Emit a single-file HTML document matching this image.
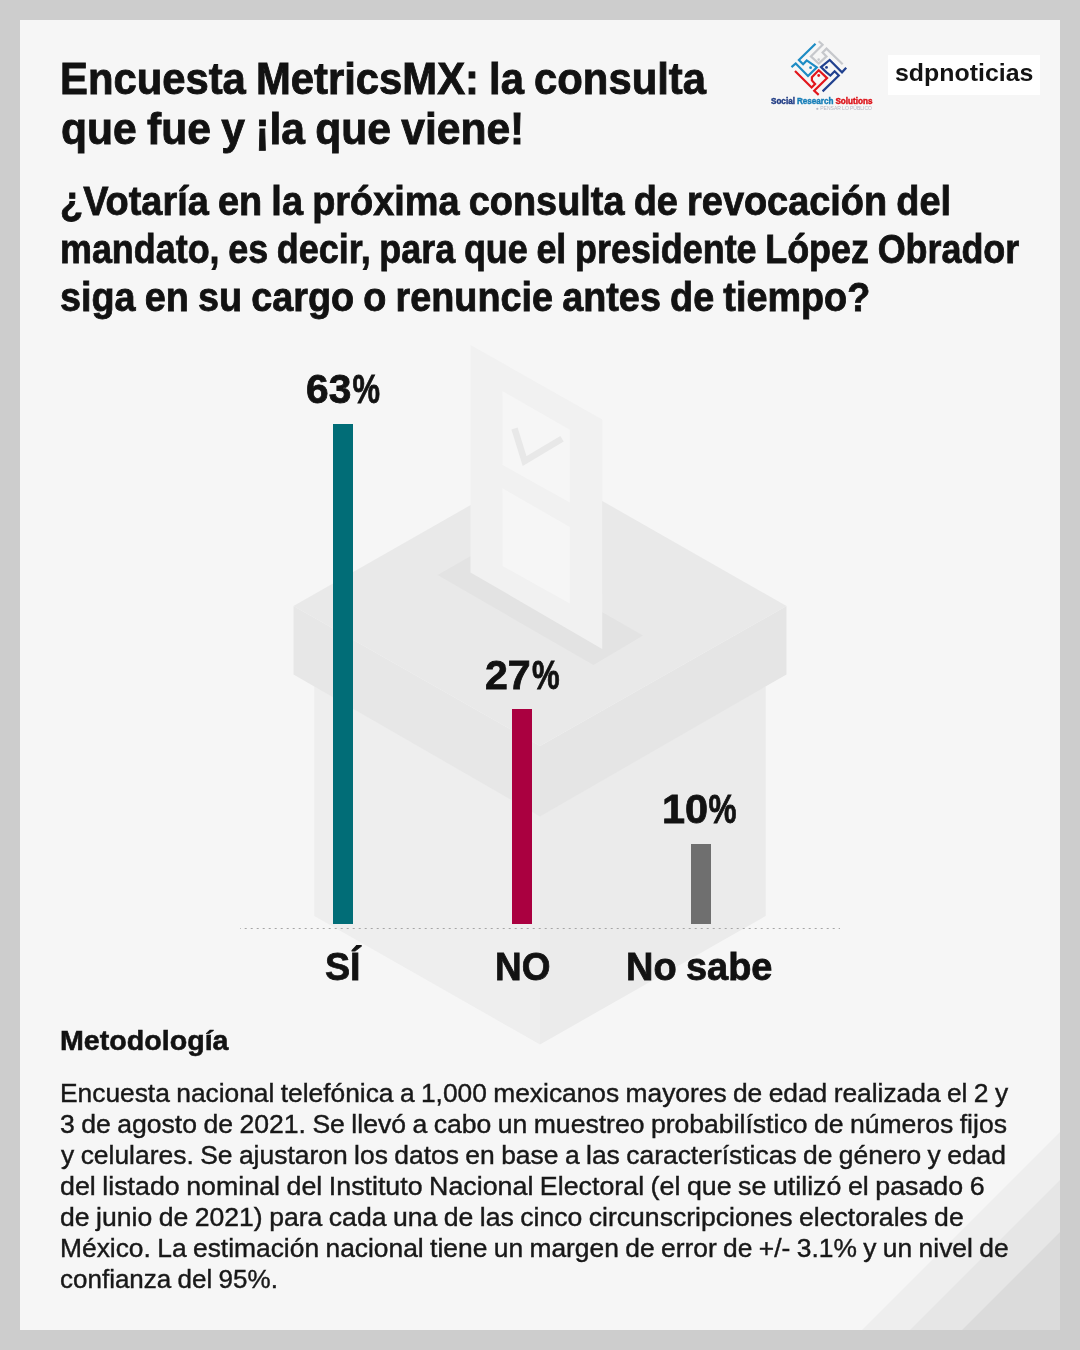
<!DOCTYPE html>
<html lang="es">
<head>
<meta charset="utf-8">
<title>Encuesta MetricsMX: la consulta que fue y ¡la que viene!</title>
<style>
  html, body { margin:0; padding:0; }
  body { width:1080px; height:1350px; overflow:hidden; background:#cdcdcd;
         font-family:"Liberation Sans", Arial, Helvetica, sans-serif; }
  .card { position:absolute; left:20px; top:20px; width:1040px; height:1310px; background:#f6f6f6; overflow:hidden; }
  .stage { position:absolute; left:0; top:0; width:1080px; height:1350px; }
  .art { position:absolute; left:0; top:0; width:1080px; height:1350px; }
  h1, h2, h3, p { margin:0; padding:0; font-size:inherit; font-weight:inherit; }
  .ln { position:absolute; display:block; white-space:nowrap; line-height:1.2; transform-origin:0 50%;
        letter-spacing:0; word-spacing:-0.035em; }
  .pc { display:inline-block; transform-origin:0 50%; }
  .bar { position:absolute; width:20px; }
  .axis { position:absolute; left:240px; top:928px; width:600px; height:1px; background-position:-1.3px 0;
          background-image:repeating-linear-gradient(90deg,#a6a6a6 0,#a6a6a6 2px,transparent 2px,transparent 6px); }
  .srs-mark { position:absolute; left:0; top:0; }
  .sdp { position:absolute; left:888px; top:55px; width:152px; height:39.5px; background:#ffffff; }
</style>
</head>
<body>
<div class="card"></div>
<main class="stage">
  <svg class="art" width="1080" height="1350" viewBox="0 0 1080 1350" aria-hidden="true">
    <!-- corner stripes -->
    <g>
      <polygon points="1060,1132 1060,1330 862,1330" fill="#eeeeee"/>
      <polygon points="1060,1180 1060,1330 910,1330" fill="#e6e6e6"/>
      <polygon points="1060,1232 1060,1330 962,1330" fill="#dbdbdb"/>
    </g>
    <!-- ballot box -->
    <g>
      <!-- body -->
      <polygon points="314.3,686 540,816 540,1044.5 314.3,916" fill="#eeeeee"/>
      <polygon points="765.7,686 540,816 540,1044.5 765.7,916" fill="#ebebeb"/>
      <!-- lid faces -->
      <polygon points="293.5,606 540,746 540,816.5 293.5,674.5" fill="#e7e7e7"/>
      <polygon points="786.5,606 540,746 540,816.5 786.5,674.5" fill="#e5e5e5"/>
      <!-- lid top -->
      <polygon points="540,465.5 786.5,606 540,746 293.5,606" fill="#e9e9e9"/>
      <!-- slot -->
      <polygon points="437.6,575 487.3,546.5 643,635.5 593.5,665" fill="#e3e3e3"/>
      <!-- paper -->
      <polygon points="470.5,345 602.2,419.6 602.2,649 470.5,572.4" fill="#f1f1f1"/>
      <polygon points="502.4,391 569.8,429.8 569.8,502.4 502.4,464.8" fill="#f6f6f6"/>
      <polygon points="502.4,488.2 569.8,527 569.8,603.5 502.4,565.9" fill="#f6f6f6"/>
      <polyline points="514.5,428.5 524.6,461 562,438.7" fill="none" stroke="#e8e8e8" stroke-width="6.5"/>
    </g>
  </svg>

  <header>
  <h1 class="title">
    <span class="ln" id="t1" style="left:60.48px;top:52.50px;font-size:44.0px;font-weight:700;color:#121212;-webkit-text-stroke:0.88px #121212;transform:scaleX(0.9499)">Encuesta MetricsMX: la consulta</span>
    <span class="ln" id="t2" style="left:61.11px;top:103.22px;font-size:44.0px;font-weight:700;color:#121212;-webkit-text-stroke:0.88px #121212;transform:scaleX(0.9675)">que fue y ¡la que viene!</span>
  </h1>
    <div class="srs">
    <svg class="srs-mark" width="1080" height="140" viewBox="0 0 1080 140" role="img" aria-label="Social Research Solutions">
      <g fill="none" stroke-width="2.2" stroke-linejoin="miter" stroke-linecap="butt">
        <polyline points="818.7,41.2 822.6,44.7 810.9,56.4 818.7,63.5 826.5,56.4 822.6,52.5 826.5,48.6 842.7,64.2" stroke="#c6c8cc"/>
        <polyline points="815.5,43.7 798.9,60.0 803.1,64.2 806.7,60.4 816.8,67.4 808.0,76.0 795.7,63.5 791.5,67.1" stroke="#1d8cc4"/>
        <polyline points="846.2,67.7 842.0,72.3 829.7,60.0 821.0,67.1 826.5,72.3 830.4,75.5 834.6,71.3 838.8,75.5 822.6,91.4" stroke="#21418f"/>
        <polyline points="795.0,71.0 811.6,87.5 815.1,83.9 811.9,80.4 811.9,77.1 818.7,70.3 827.1,78.1 814.2,90.7 818.7,94.9" stroke="#e2161c"/>
      </g>
      <circle cx="818.7" cy="59.6" r="1.3" fill="#c6c8cc"/>
      <circle cx="810.6" cy="67.7" r="1.4" fill="#1d8cc4"/>
      <circle cx="826.5" cy="67.4" r="1.4" fill="#21418f"/>
      <circle cx="818.7" cy="75.5" r="1.4" fill="#e2161c"/>
    </svg>
      <span class="ln" id="srs1" style="left:771.37px;top:95.79px;font-size:9.2px;font-weight:700;color:#27458f;-webkit-text-stroke:0.45px #27458f;transform:scaleX(0.8835)"><span style="color:#213d85;-webkit-text-stroke-color:#213d85">Social</span> <span style="color:#167eb8;-webkit-text-stroke-color:#167eb8">Research</span> <span style="color:#dc1017;-webkit-text-stroke-color:#dc1017">Solutions</span></span><span class="ln" id="srs4" style="left:815.74px;top:106.13px;font-size:4.8px;font-weight:400;color:#b4b6c4;-webkit-text-stroke:0.00px #b4b6c4;transform:scaleX(1.0455)">● PENSAR LO PÚBLICO</span>
    </div>
    <div class="sdp"></div>
    <span class="ln" id="sdp" style="left:894.76px;top:59.11px;font-size:24.1px;font-weight:700;color:#141414;-webkit-text-stroke:0.00px #141414;transform:scaleX(1.0334)">sdpnoticias</span>
  </header>
  <h2 class="question">
    <span class="ln" id="q1" style="left:59.96px;top:177.49px;font-size:40.1px;font-weight:700;color:#121212;-webkit-text-stroke:0.80px #121212;transform:scaleX(0.9452)">¿Votaría en la próxima consulta de revocación del</span>
    <span class="ln" id="q2" style="left:59.57px;top:225.49px;font-size:40.1px;font-weight:700;color:#121212;-webkit-text-stroke:0.80px #121212;transform:scaleX(0.8955)">mandato, es decir, para que el presidente López Obrador</span>
    <span class="ln" id="q3" style="left:60.43px;top:273.49px;font-size:40.1px;font-weight:700;color:#121212;-webkit-text-stroke:0.80px #121212;transform:scaleX(0.9426)">siga en su cargo o renuncie antes de tiempo?</span>
  </h2>
  <section class="chart">
    <div class="bar" style="left:333px;top:424px;height:499.5px;background:#016d77"></div>
    <div class="bar" style="left:512px;top:709px;height:214.5px;background:#aa0040"></div>
    <div class="bar" style="left:691px;top:844px;height:79.5px;background:#6f6f6f"></div>
    <div class="axis"></div>
    <div class="col">
      <strong class="val"><span class="ln" id="v1" style="left:305.62px;top:365.09px;font-size:41.1px;font-weight:700;color:#121212;-webkit-text-stroke:0.82px #121212;transform:scaleX(0.9907)">63<span class="pc" id="v1p" style="margin-left:1.46px;transform:scaleX(0.7597)">%</span></span></strong>
      <span class="ln" id="l1" style="left:325.34px;top:942.59px;font-size:39.7px;font-weight:700;color:#121212;-webkit-text-stroke:0.79px #121212;transform:scaleX(0.9489)">SÍ</span>
    </div>
    <div class="col">
      <strong class="val"><span class="ln" id="v2" style="left:484.57px;top:650.65px;font-size:41.1px;font-weight:700;color:#121212;-webkit-text-stroke:0.82px #121212;transform:scaleX(1.0006)">27<span class="pc" id="v2p" style="margin-left:1.41px;transform:scaleX(0.7560)">%</span></span></strong>
      <span class="ln" id="l2" style="left:494.75px;top:942.85px;font-size:39.7px;font-weight:700;color:#121212;-webkit-text-stroke:0.79px #121212;transform:scaleX(0.9311)">NO</span>
    </div>
    <div class="col">
      <strong class="val"><span class="ln" id="v3" style="left:661.73px;top:785.00px;font-size:41.1px;font-weight:700;color:#121212;-webkit-text-stroke:0.82px #121212;transform:scaleX(1.0091)">10<span class="pc" id="v3p" style="margin-left:0.00px;transform:scaleX(0.7600)">%</span></span></strong>
      <span class="ln" id="l3" style="left:625.50px;top:942.51px;font-size:39.7px;font-weight:700;color:#121212;-webkit-text-stroke:0.79px #121212;transform:scaleX(0.9574)">No sabe</span>
    </div>
    
  </section>
  <section class="method">
  <h3 class="mh">
    <span class="ln" id="m0" style="left:59.84px;top:1023.38px;font-size:28.4px;font-weight:700;color:#121212;-webkit-text-stroke:0.57px #121212;transform:scaleX(1.0081)">Metodología</span>
  </h3>
  <p class="mp">
    <span class="ln" id="m1" style="left:60.24px;top:1077.60px;font-size:26.3px;font-weight:400;color:#181818;-webkit-text-stroke:0.42px #181818;transform:scaleX(1.0017)">Encuesta nacional telefónica a 1,000 mexicanos mayores de edad realizada el 2 y</span>
    <span class="ln" id="m2" style="left:60.41px;top:1109.22px;font-size:26.3px;font-weight:400;color:#181818;-webkit-text-stroke:0.42px #181818;transform:scaleX(1.0103)">3 de agosto de 2021. Se llevó a cabo un muestreo probabilístico de números fijos</span>
    <span class="ln" id="m3" style="left:60.78px;top:1140.45px;font-size:26.3px;font-weight:400;color:#181818;-webkit-text-stroke:0.42px #181818;transform:scaleX(1.0051)">y celulares. Se ajustaron los datos en base a las características de género y edad</span>
    <span class="ln" id="m4" style="left:59.83px;top:1170.88px;font-size:26.3px;font-weight:400;color:#181818;-webkit-text-stroke:0.42px #181818;transform:scaleX(1.0188)">del listado nominal del Instituto Nacional Electoral (el que se utilizó el pasado 6</span>
    <span class="ln" id="m5" style="left:60.49px;top:1201.99px;font-size:26.3px;font-weight:400;color:#181818;-webkit-text-stroke:0.42px #181818;transform:scaleX(1.0110)">de junio de 2021) para cada una de las cinco circunscripciones electorales de</span>
    <span class="ln" id="m6" style="left:59.81px;top:1233.40px;font-size:26.3px;font-weight:400;color:#181818;-webkit-text-stroke:0.42px #181818;transform:scaleX(1.0029)">México. La estimación nacional tiene un margen de error de +/- 3.1% y un nivel de</span>
    <span class="ln" id="m7" style="left:60.17px;top:1264.03px;font-size:26.3px;font-weight:400;color:#181818;-webkit-text-stroke:0.42px #181818;transform:scaleX(0.9886)">confianza del 95%.</span>
  </p>
  </section>
</main>
</body>
</html>
